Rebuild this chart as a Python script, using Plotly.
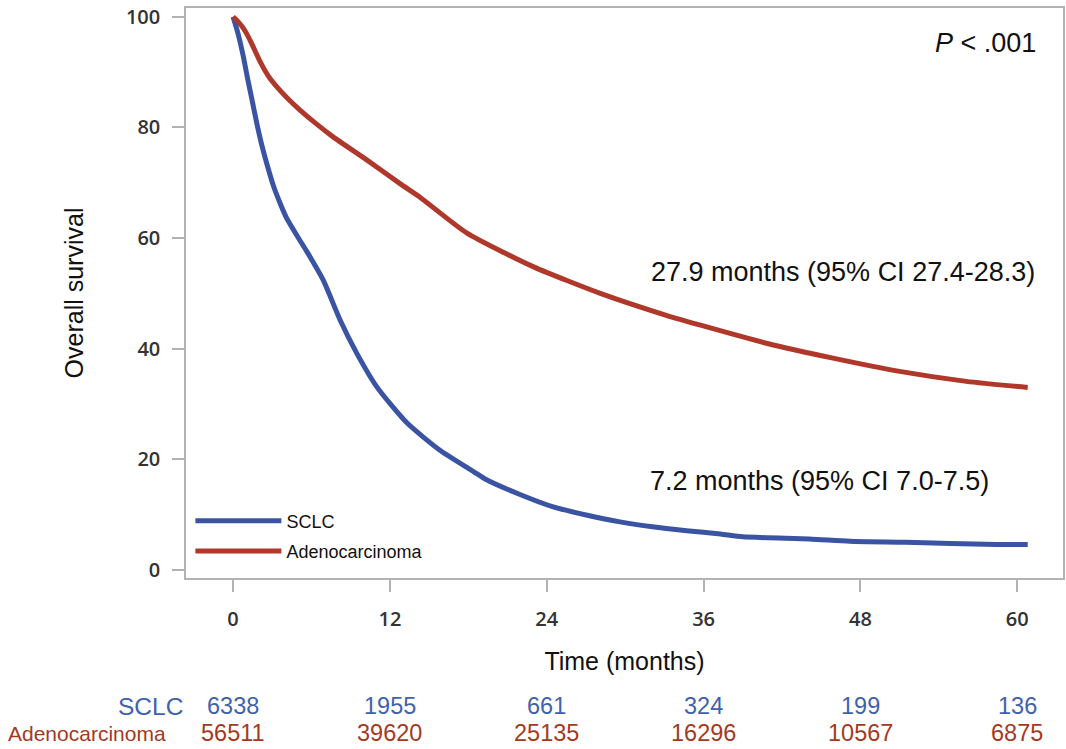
import plotly.graph_objects as go

# ---- data ----
sclc_t = [0, 0.4, 0.77, 1.1, 1.45, 1.84, 2.2, 2.6, 3.08, 3.6, 4.1, 4.85, 5.64, 6.9, 8.19, 9.46, 11.0,
          13.3, 15.8, 18.4, 19.4, 22.0, 24.5, 27.1, 29.6, 32.1, 34.7, 37.3, 39.0, 44.1, 47.2, 51.5,
          58.4, 60.8]
sclc_s = [100, 96.8, 93.0, 89.0, 85.0, 80.5, 76.8, 73.3, 69.5, 66.3, 63.6, 60.6, 57.6, 52.4, 45.2, 39.2, 33.1,
          26.6, 21.7, 17.8, 16.3, 13.6, 11.4, 9.9, 8.7, 7.8, 7.1, 6.5, 6.0, 5.6, 5.2, 5.0,
          4.6, 4.6]

adeno_t = [0, 0.4, 0.77, 1.1, 1.4, 2.07, 2.7, 3.37, 4.2, 5.1, 6.4, 7.65, 10.25, 12.8, 14.3, 17.9, 23.0,
           28.1, 33.2, 35.7, 40.8, 45.9, 51.0, 56.1, 60.8]
adeno_s = [100, 99.1, 98.0, 96.7, 95.3, 91.9, 89.3, 87.3, 85.2, 83.2, 80.6, 78.3, 74.1, 69.8, 67.4, 60.9, 54.8,
           50.0, 46.0, 44.3, 41.0, 38.3, 35.9, 34.1, 33.0]

x_ticks = [0, 12, 24, 36, 48, 60]
y_ticks = [0, 20, 40, 60, 80, 100]
risk_sclc = [6338, 1955, 661, 324, 199, 136]
risk_adeno = [56511, 39620, 25135, 16296, 10567, 6875]

series_names = ["SCLC", "Adenocarcinoma"]
annot_p = "<i>P</i> < .001"
annot_adeno = "27.9 months (95% CI 27.4-28.3)"
annot_sclc = "7.2 months (95% CI 7.0-7.5)"

BLUE = "#3b53a3"
RED = "#b0382a"
BLUE_TXT = "#3f62ad"
RED_TXT = "#a33a1f"
TXT = "#111111"

fig = go.Figure()
fig.add_trace(go.Scatter(x=sclc_t, y=sclc_s, mode="lines", name=series_names[0], legendgroup="a",
                         line=dict(color=BLUE, width=5, shape="spline", smoothing=0.6)))
fig.add_trace(go.Scatter(x=adeno_t, y=adeno_s, mode="lines", name=series_names[1], legendgroup="b",
                         line=dict(color=RED, width=5, shape="spline", smoothing=0.6)))

tickfont = dict(family="Open Sans", size=20, color="#333333", weight=600)
axcommon = dict(showline=True, linecolor="#b3b3b3", linewidth=1.5, mirror=True,
                ticks="outside", ticklen=12, tickcolor="#b3b3b3", tickwidth=1.5,
                showgrid=False, zeroline=False, tickfont=tickfont,
                ticklabeloverflow="allow", automargin=False)

fig.update_xaxes(range=[-3.6, 63.5], tickvals=x_ticks, ticklabelstandoff=10,
                 title=dict(text="Time (months)", font=dict(family="Liberation Sans", size=25, color=TXT),
                            standoff=22),
                 **axcommon)
fig.update_yaxes(range=[-1.45, 101.6], tickvals=y_ticks, ticklabelstandoff=8,
                 title=dict(text="Overall survival", font=dict(family="Liberation Sans", size=25, color=TXT),
                            standoff=35),
                 **axcommon)

ann = []
ann.append(dict(x=1.0, y=0.9386, xref="paper", yref="paper", xanchor="right", yanchor="middle",
                xshift=-25, text=annot_p, showarrow=False,
                font=dict(family="Liberation Sans", size=27, color=TXT)))
ann.append(dict(x=60.8, y=53.9, xref="x", yref="y", xanchor="right", yanchor="middle", xshift=9,
                text=annot_adeno, showarrow=False,
                font=dict(family="Liberation Sans", size=27, color=TXT)))
ann.append(dict(x=31.75, y=16.1, xref="x", yref="y", xanchor="left", yanchor="middle",
                text=annot_sclc, showarrow=False,
                font=dict(family="Liberation Sans", size=27, color=TXT)))

# number-at-risk table
for xv, n1, n2 in zip(x_ticks, risk_sclc, risk_adeno):
    ann.append(dict(x=xv, y=-0.2246, xref="x", yref="paper", xanchor="center", yanchor="middle",
                    text=str(n1), showarrow=False,
                    font=dict(family="Liberation Sans", size=23.5, color=BLUE_TXT)))
    ann.append(dict(x=xv, y=-0.272, xref="x", yref="paper", xanchor="center", yanchor="middle",
                    text=str(n2), showarrow=False,
                    font=dict(family="Liberation Sans", size=23.5, color=RED_TXT)))
ann.append(dict(x=0, y=-0.2246, xref="paper", yref="paper", xanchor="right", yanchor="middle",
                xshift=-1, text=series_names[0], showarrow=False,
                font=dict(family="Liberation Sans", size=24.5, color=BLUE_TXT)))
ann.append(dict(x=0, y=-0.272, xref="paper", yref="paper", xanchor="right", yanchor="middle",
                xshift=-18, text=series_names[1], showarrow=False,
                font=dict(family="Liberation Sans", size=21, color=RED_TXT)))

fig.update_layout(
    width=1066, height=749,
    margin=dict(l=186, r=3, t=8, b=171),
    paper_bgcolor="white", plot_bgcolor="white",
    annotations=ann,
    showlegend=True,
    legend=dict(x=0.005, y=0.015, xanchor="left", yanchor="bottom", traceorder="grouped",
                font=dict(family="Liberation Sans", size=18, color=TXT),
                bgcolor="rgba(0,0,0,0)", tracegroupgap=4, itemwidth=86),
)

# remove the browser's default body margin so the figure fills the window exactly
fig.write_html("out.html", config={"displayModeBar": False},
               post_script="document.body.style.margin='0';")
